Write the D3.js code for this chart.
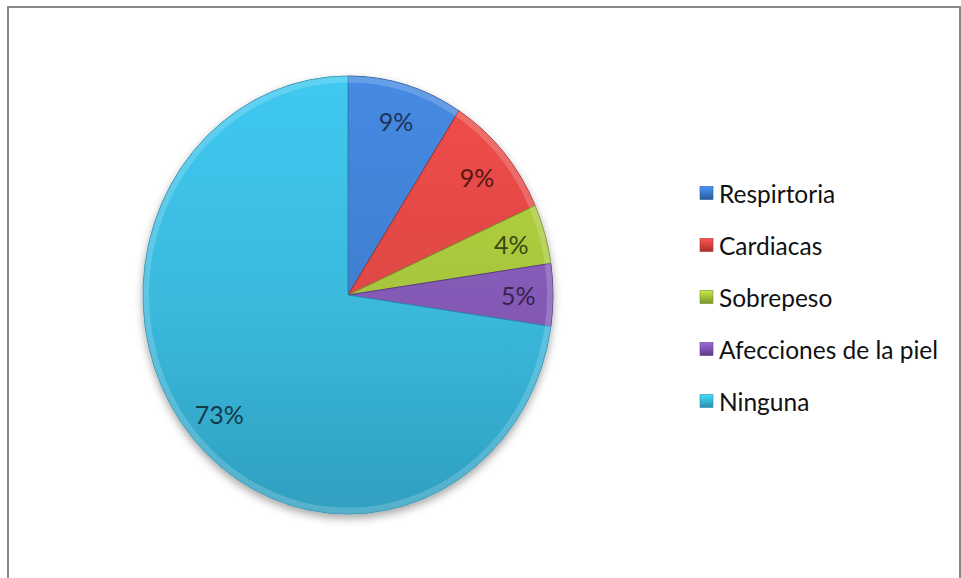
<!doctype html>
<html>
<head>
	<script src="https://d3js.org/d3.v7.min.js"></script>
</head>
<body style="margin:0; background-color: white;">
	<div id="my_dataviz"></div>
	<script>

// data
var categories = ["Respirtoria", "Cardiacas", "Sobrepeso", "Afecciones de la piel", "Ninguna"];
var values = [9.1, 9.2, 4.4, 4.6, 72.7];
var colors = ["#3f7ed0", "#dc4744", "#a6c43c", "#8359b5", "#3ab8dc"];
var darkColors = ["#2a5a9c", "#a8302d", "#7a942a", "#5e3d88", "#2a8fae"];
var labelColors = ["#1d3358", "#5a1514", "#3a4810", "#35224f", "#123b48"];

var width = 961, height = 578;
var cx = 348, cy = 295, rx = 205, ry = 219;

var svg = d3.select("#my_dataviz")
  .append("svg")
    .attr("width", width)
    .attr("height", height)
    .style("display", "block");

// chart frame (cropped at right and bottom)
svg.append("rect")
    .attr("x", 8).attr("y", 7)
    .attr("width", 952).attr("height", 600)
    .attr("fill", "white")
    .attr("stroke", "#888")
    .attr("stroke-width", 2);

var defs = svg.append("defs");

var shadow = defs.append("filter").attr("id", "shadow")
    .attr("x", "-20%").attr("y", "-20%").attr("width", "140%").attr("height", "140%");
shadow.append("feDropShadow")
    .attr("dx", 0).attr("dy", 4).attr("stdDeviation", 4)
    .attr("flood-color", "#000").attr("flood-opacity", 0.35);

// one vertical gradient per slice, light on top, darker below
colors.forEach(function(c, i) {
  var g = defs.append("linearGradient")
      .attr("id", "grad" + i)
      .attr("gradientUnits", "userSpaceOnUse")
      .attr("x1", 0).attr("y1", -rx).attr("x2", 0).attr("y2", rx);
  g.append("stop").attr("offset", "0%").attr("stop-color", d3.color(c).brighter(0.25));
  g.append("stop").attr("offset", "55%").attr("stop-color", c);
  g.append("stop").attr("offset", "100%").attr("stop-color", d3.interpolateRgb(c, darkColors[i])(0.6));
  var s = defs.append("linearGradient")
      .attr("id", "sq" + i)
      .attr("x1", 0).attr("y1", 0).attr("x2", 0).attr("y2", 1);
  s.append("stop").attr("offset", "0%").attr("stop-color", d3.color(c).brighter(0.5));
  s.append("stop").attr("offset", "100%").attr("stop-color", darkColors[i]);
});

var pie = d3.pie().sort(null).value(function(d) { return d; });
var arcs = pie(values);

var arc = d3.arc().innerRadius(0).outerRadius(rx);
var rim = d3.arc().innerRadius(rx - 6).outerRadius(rx);
var labelArc = d3.arc().innerRadius(rx * 0.83).outerRadius(rx * 0.83);

var chart = svg.append("g")
    .attr("transform", "translate(" + cx + "," + cy + ")");

var pieG = chart.append("g")
    .attr("filter", "url(#shadow)")
  .append("g")
    .attr("transform", "scale(1," + (ry / rx) + ")");

pieG.selectAll("path.slice")
  .data(arcs)
  .enter().append("path")
    .attr("class", "slice")
    .attr("d", arc)
    .attr("fill", function(d, i) { return "url(#grad" + i + ")"; })
    .attr("stroke", function(d, i) { return darkColors[i]; })
    .attr("stroke-width", 1)
    .attr("stroke-linejoin", "round")
    .attr("vector-effect", "non-scaling-stroke");

// light bevel along the rim
pieG.selectAll("path.rim")
  .data(arcs)
  .enter().append("path")
    .attr("class", "rim")
    .attr("d", rim)
    .attr("fill", "white")
    .attr("opacity", 0.18);

// data labels
chart.selectAll("text.label")
  .data(arcs)
  .enter().append("text")
    .attr("class", "label")
    .attr("x", function(d) { return labelArc.centroid(d)[0]; })
    .attr("y", function(d) { return labelArc.centroid(d)[1] * ry / rx; })
    .attr("text-anchor", "middle")
    .attr("dominant-baseline", "central")
    .style("font-family", "Lato, 'Open Sans', sans-serif")
    .style("font-size", "25px")
    .attr("fill", function(d, i) { return labelColors[i]; })
    .text(function(d) { return Math.round(d.data) + "%"; });

// legend
var legend = svg.selectAll("g.legend")
  .data(categories)
  .enter().append("g")
    .attr("class", "legend")
    .attr("transform", function(d, i) { return "translate(700," + (193 + i * 52) + ")"; });

legend.append("rect")
    .attr("x", 0).attr("y", -6.5)
    .attr("width", 13).attr("height", 13)
    .attr("fill", function(d, i) { return "url(#sq" + i + ")"; })
    .attr("stroke", function(d, i) { return darkColors[i]; })
    .attr("stroke-width", 0.6);

legend.append("text")
    .attr("x", 19).attr("y", 0)
    .attr("dominant-baseline", "central")
    .style("font-family", "Lato, 'Open Sans', sans-serif")
    .style("font-size", "24.5px")
    .attr("fill", "#111")
    .text(function(d) { return d; });

	</script>
</body>
</html>
